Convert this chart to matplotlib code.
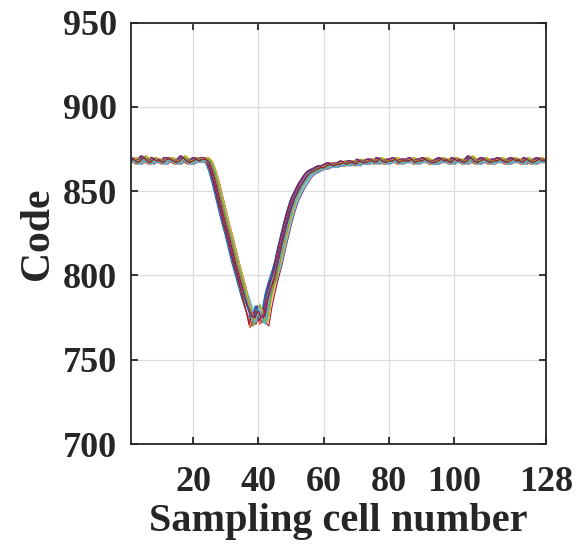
import numpy as np
import matplotlib
matplotlib.use("Agg")
import matplotlib.pyplot as plt

# sampling cell index
cells = np.arange(1, 129)

# typical waveform (ADC code per sampling cell)
base_code = [
    868, 869, 867, 868, 870, 868, 867, 869, 868, 868, 867, 869, 869, 868, 867, 868,
    870, 868, 867, 868, 869, 868, 869, 869, 867, 862, 855, 847, 839, 831, 824, 816,
    808, 801, 794, 787, 781, 776, 775, 779, 775, 776, 786, 793, 799, 807, 816, 824,
    832, 839, 845, 849, 853, 856, 859, 861, 862, 863, 864, 864, 865, 866, 865, 866,
    866, 867, 866, 867, 867, 866, 868, 867, 867, 868, 868, 867, 869, 868, 867, 868,
    868, 869, 867, 868, 868, 868, 869, 867, 868, 868, 869, 868, 867, 867, 868, 869,
    868, 868, 867, 869, 868, 868, 867, 868, 870, 868, 867, 868, 869, 868, 867, 868,
    868, 869, 868, 867, 868, 869, 868, 868, 867, 869, 868, 867, 868, 869, 868, 868,
]

# the bottom of the dip (cells 36..45) varies from trace to trace
dip_start = 36
dip_variants = [
    [787, 781, 776, 775, 779, 775, 776, 786, 793, 799],
    [785, 778, 772, 777, 780, 773, 771, 783, 792, 800],
    [789, 783, 778, 774, 781, 777, 774, 788, 795, 801],
    [786, 779, 770, 776, 778, 772, 775, 784, 794, 798],
    [788, 782, 775, 773, 782, 776, 772, 785, 796, 802],
]

# per-trace spread seen in the band: timing offset (cells) and code offset
trace_dx = [-1.2, -0.8, -0.4, 0.0, 0.4, 0.8, 1.2, -1.0, -0.6, -0.2, 0.2, 0.6, 1.0,
            -0.9, -0.3, 0.3, 0.9, -0.5, 0.5, 0.1, -0.1]
trace_off = [0, 1, -1, 0, 1, 0, -1, 1, -1, 0, 0, 1, -1, 1, 0, -1, 1, 1, 0, -1, 0]

xticks = [20, 40, 60, 80, 100, 128]
yticks = [700, 750, 800, 850, 900, 950]

COLORS = ["#0072BD", "#D95319", "#EDB120", "#7E2F8E", "#77AC30", "#4DBEEE", "#A2142F"]
TXT = "#262626"
FONT = "Liberation Serif"

fig = plt.figure(figsize=(5.83, 5.45), dpi=100)
ax = fig.add_axes([0.2247, 0.1853, 0.7118, 0.7730])

for k, (dx, off) in enumerate(zip(trace_dx, trace_off)):
    y = np.array(base_code, dtype=float)
    dip = dip_variants[k % len(dip_variants)]
    y[dip_start - 1:dip_start - 1 + len(dip)] = dip
    ax.plot(cells + dx, y + off, color=COLORS[k % len(COLORS)], lw=0.8)

ax.set_xlim(1, 128)
ax.set_ylim(700, 950)
ax.set_xticks(xticks)
ax.set_yticks(yticks)
ax.grid(True, color="#dcdcdc", lw=0.9)
ax.set_axisbelow(True)

for sp in ax.spines.values():
    sp.set_linewidth(1.3)
    sp.set_color(TXT)

ax.tick_params(axis="both", direction="in", length=5, width=1.3, color=TXT,
               top=True, right=True, labelsize=26, labelcolor=TXT)
ax.tick_params(axis="x", pad=16)
ax.tick_params(axis="y", pad=10)
for lab in ax.get_xticklabels() + ax.get_yticklabels():
    lab.set_fontfamily(FONT)
    lab.set_fontweight("bold")

ax.set_xlabel("Sampling cell number", fontsize=29, fontweight="bold", family=FONT,
              color=TXT, labelpad=3)
ax.set_ylabel("Code", fontsize=30, fontweight="bold", family=FONT, color=TXT, labelpad=4)

fig.savefig("out.png", dpi=100)
